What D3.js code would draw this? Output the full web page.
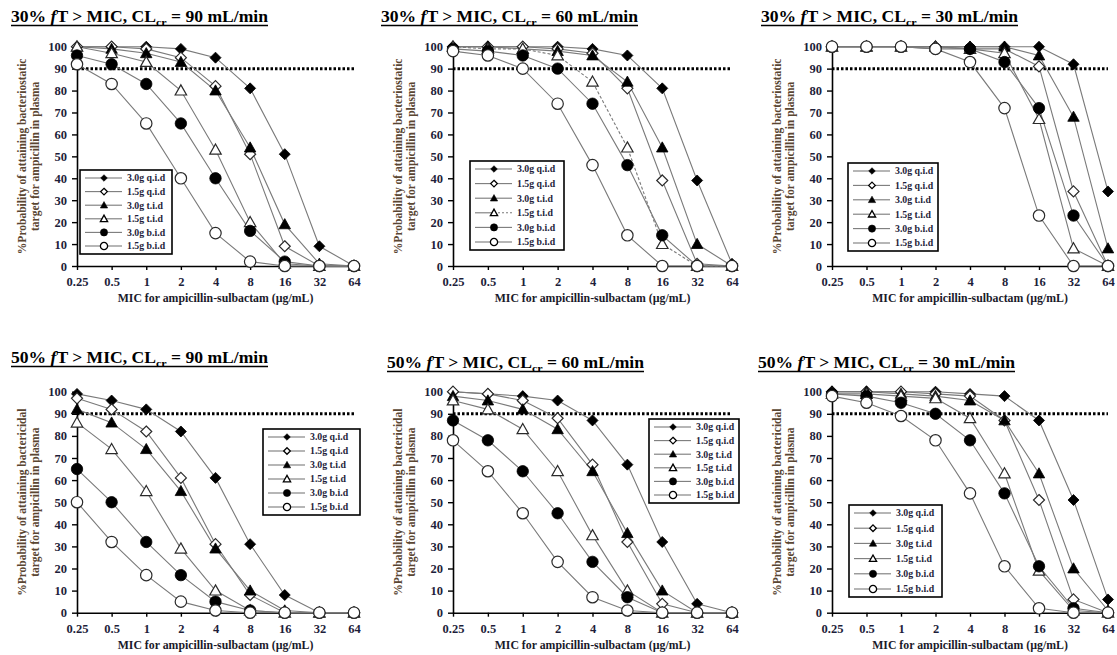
<!DOCTYPE html>
<html><head><meta charset="utf-8">
<script src="https://cdn.jsdelivr.net/npm/d3@7/dist/d3.min.js"></script>
<style>
body{margin:0;background:#fff;}
svg{display:block;}
text{font-family:"Liberation Serif","Times New Roman",serif;font-weight:bold;}
</style></head>
<body>
<svg id="c" width="1117" height="655"></svg>
<script>
// ---------- data ----------
const micValues = [0.25, 0.5, 1, 2, 4, 8, 16, 32, 64];
const micLabels = ["0.25", "0.5", "1", "2", "4", "8", "16", "32", "64"];
const yTicks = [0, 10, 20, 30, 40, 50, 60, 70, 80, 90, 100];
const regimens = ["3.0g q.i.d", "1.5g q.i.d", "3.0g t.i.d", "1.5g t.i.d", "3.0g b.i.d", "1.5g b.i.d"];
const targetLevels = ["30%", "30%", "30%", "50%", "50%", "50%"];
const clcrLevels = ["90", "60", "30", "90", "60", "30"];
const threshold = 90;

const p30_90 = [
  [100, 100, 100, 99, 95, 81, 51, 9, 0],
  [100, 100, 99, 95, 82, 51, 9, 0, 0],
  [100, 99, 97, 93, 80, 54, 19, 1, 0],
  [100, 97, 93, 80, 53, 20, 1, 0, 0],
  [96, 92, 83, 65, 40, 16, 2, 0, 0],
  [92, 83, 65, 40, 15, 2, 0, 0, 0]
];
const p30_60 = [
  [100, 100, 100, 100, 99, 96, 81, 39, 1],
  [100, 100, 100, 99, 97, 81, 39, 1, 0],
  [100, 100, 99, 98, 96, 84, 54, 10, 0],
  [100, 99, 99, 96, 84, 54, 10, 0, 0],
  [99, 98, 96, 90, 74, 46, 14, 0, 0],
  [98, 96, 90, 74, 46, 14, 0, 0, 0]
];
const p30_30 = [
  [100, 100, 100, 100, 100, 100, 100, 92, 34],
  [100, 100, 100, 100, 99, 99, 91, 34, 0],
  [100, 100, 100, 100, 100, 100, 96, 68, 8],
  [100, 100, 100, 100, 99, 97, 67, 8, 0],
  [100, 100, 100, 99, 99, 93, 72, 23, 0],
  [100, 100, 100, 99, 93, 72, 23, 0, 0]
];
const p50_90 = [
  [99, 96, 92, 82, 61, 31, 8, 0, 0],
  [97, 92, 82, 61, 31, 8, 0, 0, 0],
  [92, 86, 74, 55, 29, 10, 1, 0, 0],
  [86, 74, 55, 29, 10, 1, 0, 0, 0],
  [65, 50, 32, 17, 5, 1, 0, 0, 0],
  [50, 32, 17, 5, 1, 0, 0, 0, 0]
];
const p50_60 = [
  [100, 99, 98, 96, 87, 67, 32, 4, 0],
  [100, 99, 96, 88, 67, 32, 4, 0, 0],
  [98, 96, 92, 83, 64, 36, 10, 0, 0],
  [96, 92, 83, 64, 35, 10, 0, 0, 0],
  [87, 78, 64, 45, 23, 7, 0, 0, 0],
  [78, 64, 45, 23, 7, 1, 0, 0, 0]
];
const p50_30 = [
  [100, 100, 100, 100, 99, 98, 87, 51, 6],
  [100, 100, 100, 99, 98, 87, 51, 6, 0],
  [100, 100, 99, 98, 96, 87, 63, 20, 1],
  [99, 99, 98, 97, 88, 63, 19, 1, 0],
  [99, 98, 95, 90, 78, 54, 21, 2, 0],
  [98, 95, 89, 78, 54, 21, 2, 0, 0]
];
const panelData = [p30_90, p30_60, p30_30, p50_90, p50_60, p50_30];
const yTitleWords = ["bacteriostatic", "bacteriostatic", "bacteriostatic", "bactericidal", "bactericidal", "bactericidal"];

// ---------- layout ----------
const colX = [[77, 354], [453, 732], [832, 1108]];
const rowY = [[266, 46.7], [612.7, 391.7]];
const titlePos = [[11, 22], [381, 22], [761, 22], [11, 363], [387, 368], [758, 368]];
const legendBox = [[80, 170, 92, 84], [470, 161, 94, 89], [848, 163, 90, 88],
                   [263, 429, 97, 86], [649, 419, 90, 84], [849, 505, 93, 92]];
const dashedSeries = [null, 3, null, null, null, null];

const filled = [true, false, true, false, true, false];
const shapes = ["diamond", "diamond", "triangle", "triangle", "circle", "circle"];
function markerPath(shape, s) {
  if (shape === "diamond") return `M0,${-s}L${s},0L0,${s}L${-s},0Z`;
  if (shape === "triangle") return `M0,${-s*1.1}L${s*1.1},${s*0.85}L${-s*1.1},${s*0.85}Z`;
  return `M${s},0A${s},${s} 0 1,1 ${-s},0A${s},${s} 0 1,1 ${s},0Z`;
}

const svg = d3.select("#c");
const tickColor = "#1e1e3a";

panelData.forEach((data, pi) => {
  const col = pi % 3, row = Math.floor(pi / 3);
  const [x0, x1] = colX[col];
  const [y0, y1] = rowY[row];
  const x = d3.scaleLog().base(2).domain([0.25, 64]).range([x0, x1]);
  const y = d3.scaleLinear().domain([0, 100]).range([y0, y1]);
  const g = svg.append("g");

  // title
  const [tx, ty] = titlePos[pi];
  const t = g.append("text").attr("x", tx).attr("y", ty)
    .attr("font-size", 16).attr("fill", "#000")
    .attr("textLength", 257).attr("lengthAdjust", "spacingAndGlyphs");
  t.append("tspan").text(targetLevels[pi] + " ");
  t.append("tspan").attr("font-style", "italic").text("f");
  t.append("tspan").text("T > MIC, CL");
  t.append("tspan").attr("font-size", 11).attr("dy", 4).text("cr");
  t.append("tspan").attr("dy", -4).text(" = " + clcrLevels[pi] + " mL/min");
  g.append("line").attr("x1", tx).attr("x2", tx + 257).attr("y1", ty + 3.5).attr("y2", ty + 3.5)
    .attr("stroke", "#000").attr("stroke-width", 1.3);

  // axes
  const ya = g.append("g").attr("transform", `translate(${x0},0)`)
    .call(d3.axisLeft(y).tickValues(yTicks).tickSize(5).tickPadding(5).tickSizeOuter(0));
  const xa = g.append("g").attr("transform", `translate(0,${y0})`)
    .call(d3.axisBottom(x).tickValues(micValues).tickFormat((d, i) => micLabels[i]).tickSize(4).tickPadding(7).tickSizeOuter(0));
  [ya, xa].forEach(a => {
    a.select(".domain").attr("stroke", "#000").attr("stroke-width", 1.6);
    a.selectAll(".tick line").attr("stroke", "#000").attr("stroke-width", 1.4);
    a.selectAll(".tick text").attr("fill", tickColor).attr("font-size", 12.5)
      .attr("font-family", "Liberation Serif, serif").attr("font-weight", "bold");
  });

  // axis titles
  g.append("text").attr("x", (x0 + x1) / 2).attr("y", y0 + 36).attr("text-anchor", "middle")
    .attr("font-size", 11.8).attr("fill", "#1a1a2a")
    .text("MIC for ampicillin-sulbactam (\u00b5g/mL)");
  const cy = (y0 + y1) / 2;
  const yt = g.append("text").attr("transform", `translate(${x0 - 51},${cy}) rotate(-90)`)
    .attr("text-anchor", "middle").attr("font-size", 11.5).attr("fill", "#5a4632");
  yt.append("tspan").attr("x", 0).attr("y", 0).text("%Probability of attaining " + yTitleWords[pi]);
  yt.append("tspan").attr("x", 0).attr("y", 12.5).text("target for ampicillin in plasma");

  // threshold
  g.append("line").attr("x1", x0).attr("x2", x1).attr("y1", y(threshold)).attr("y2", y(threshold))
    .attr("stroke", "#000").attr("stroke-width", 3).attr("stroke-dasharray", "2.5,2");

  // series lines
  const line = d3.line().x((d, i) => x(micValues[i])).y(d => y(d));
  data.forEach((s, si) => {
    g.append("path").attr("d", line(s)).attr("fill", "none")
      .attr("stroke", "#7a7a7a").attr("stroke-width", 1.1)
      .attr("stroke-dasharray", dashedSeries[pi] === si ? "3,2" : null);
  });
  // markers
  data.forEach((s, si) => {
    const sz = shapes[si] === "diamond" ? 5.5 : (shapes[si] === "triangle" ? 5.2 : 5.7);
    g.selectAll(null).data(s).enter().append("path")
      .attr("transform", (d, i) => `translate(${x(micValues[i])},${y(d)})`)
      .attr("d", markerPath(shapes[si], sz))
      .attr("fill", filled[si] ? "#000" : "#fff")
      .attr("stroke", filled[si] ? "#000" : "#2a2a2a")
      .attr("stroke-width", filled[si] ? 0.8 : 1.2);
  });

  // legend
  const [lx, ly, lw, lh] = legendBox[pi];
  const lg = g.append("g");
  lg.append("rect").attr("x", lx).attr("y", ly).attr("width", lw).attr("height", lh)
    .attr("fill", "#fff").attr("stroke", "#000").attr("stroke-width", 1.6);
  const step = (lh - 16) / 5;
  regimens.forEach((r, si) => {
    const ry = ly + 8 + si * step;
    lg.append("line").attr("x1", lx + 5).attr("x2", lx + 24).attr("y1", ry).attr("y2", ry)
      .attr("stroke", "#7a7a7a").attr("stroke-width", 1.1);
    lg.append("line").attr("x1", lx + 24).attr("x2", lx + 42).attr("y1", ry).attr("y2", ry)
      .attr("stroke", "#7a7a7a").attr("stroke-width", 1.1)
      .attr("stroke-dasharray", dashedSeries[pi] === si ? "2,2" : null);
    const ms = shapes[si] === "diamond" ? 3.3 : (shapes[si] === "triangle" ? 3.3 : 3.6);
    lg.append("path").attr("transform", `translate(${lx + 24},${ry})`)
      .attr("d", markerPath(shapes[si], ms))
      .attr("fill", filled[si] ? "#000" : "#fff").attr("stroke", "#000").attr("stroke-width", filled[si] ? 0.6 : 1.3);
    lg.append("text").attr("x", lx + 47).attr("y", ry + 3.3).attr("font-size", 9.8)
      .attr("fill", tickColor).text(r);
  });
});
</script>
</body></html>
